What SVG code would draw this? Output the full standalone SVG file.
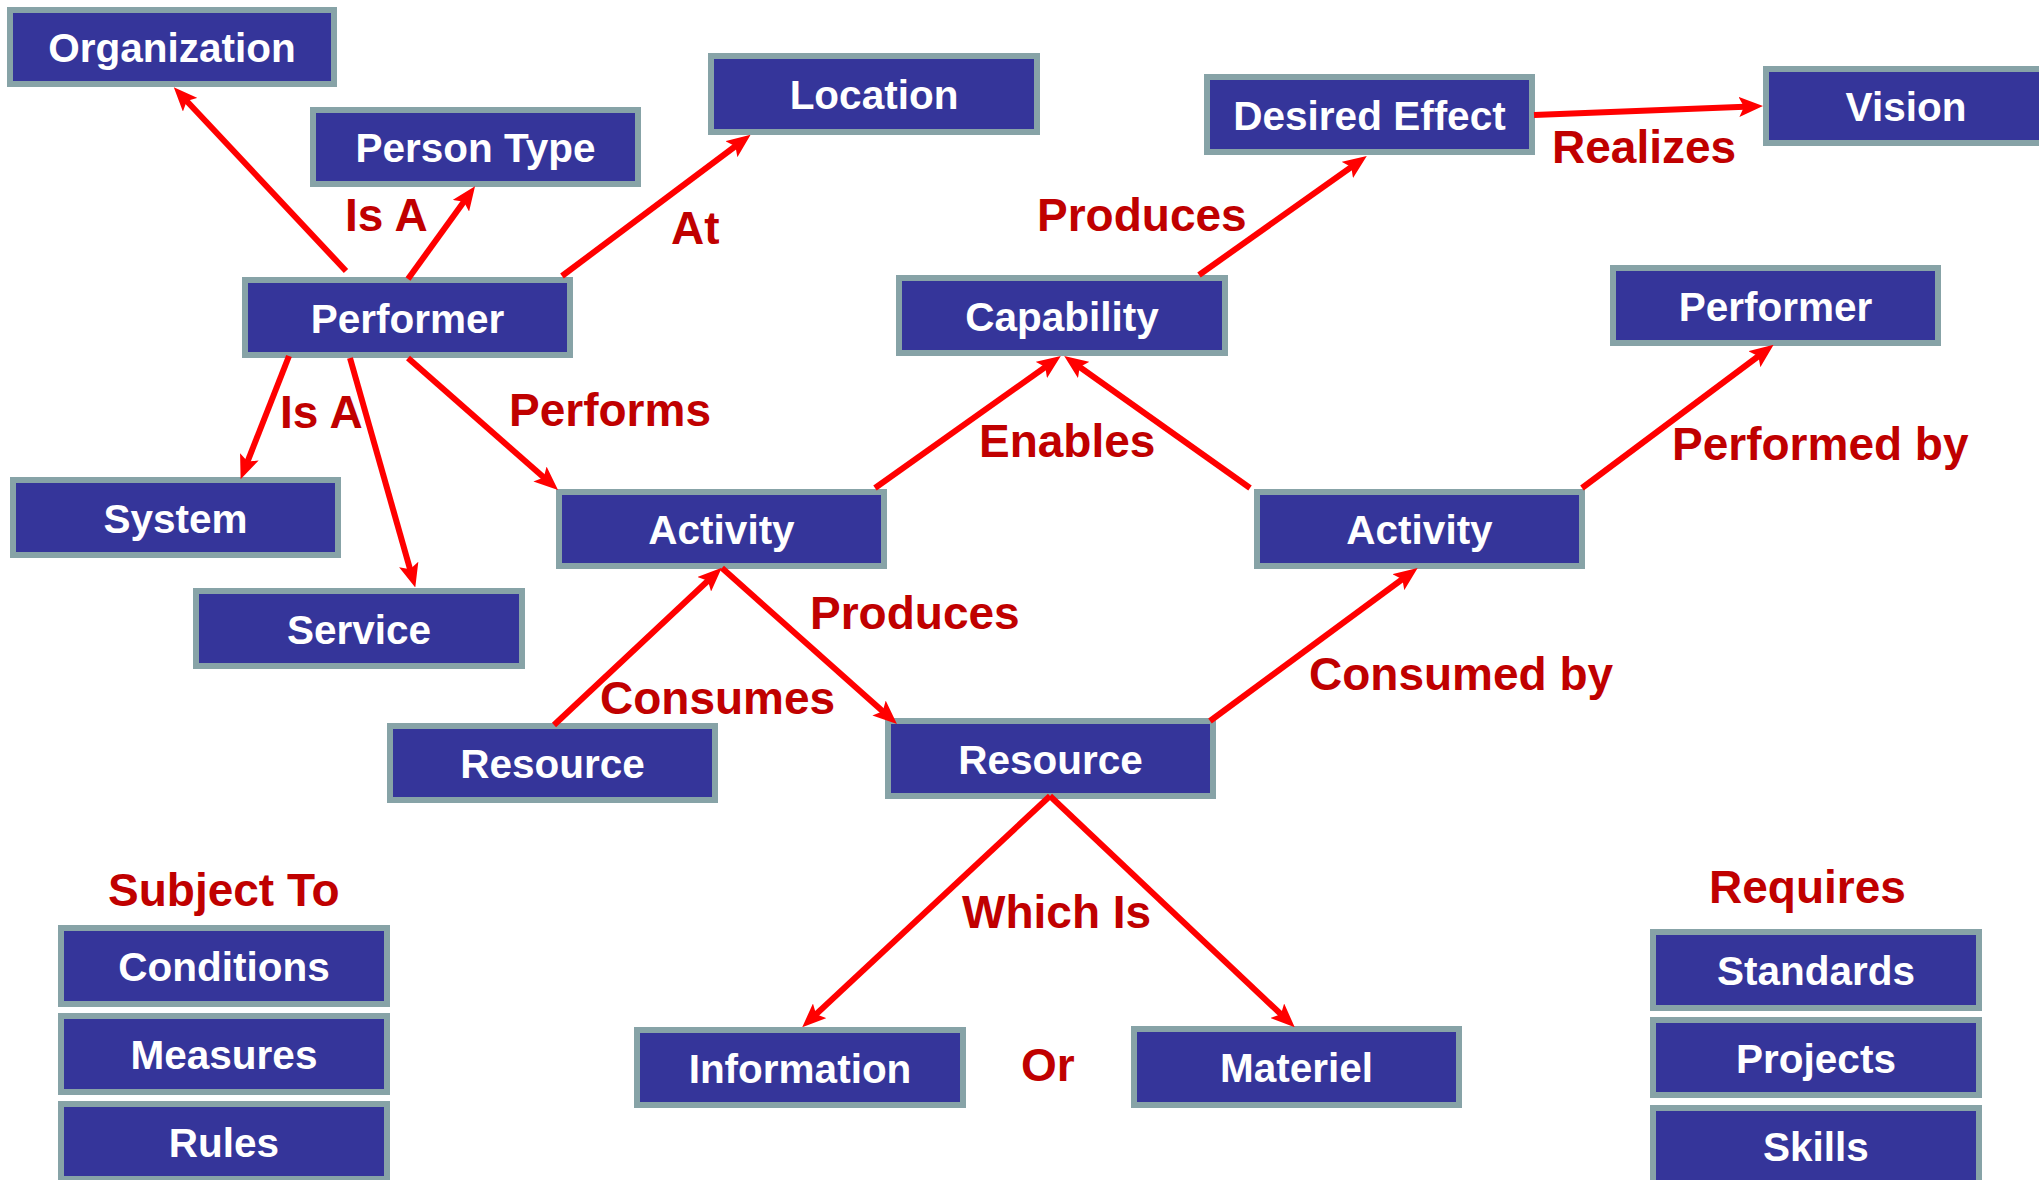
<svg xmlns="http://www.w3.org/2000/svg" width="2039" height="1180" viewBox="0 0 2039 1180">
<style>
.box rect{fill:#35359A;stroke:#87A3A7;stroke-width:6}
.box text{fill:#FFFFFF;font-family:"Liberation Sans",Arial,sans-serif;font-weight:bold;font-size:40.5px;text-anchor:middle}
.lbl{fill:#C00000;font-family:"Liberation Sans",Arial,sans-serif;font-weight:bold;font-size:46px}
.conn line{stroke:#FF0000;stroke-width:6;fill:none;marker-end:url(#ah)}
</style>
<defs>
<marker id="ah" markerUnits="userSpaceOnUse" viewBox="0 0 24 20" refX="12" refY="10" markerWidth="24" markerHeight="20" orient="auto">
<path d="M0,0 L24,10 L0,20 L5,10 z" fill="#FF0000"/>
</marker>
</defs>
<rect x="0" y="0" width="2039" height="1180" fill="#FFFFFF"/>
<g id="nodes">
<g id="organization" class="box"><rect x="10" y="10" width="324" height="74"/><text x="172" y="62">Organization</text></g>
<g id="person-type" class="box"><rect x="313" y="110" width="325" height="74"/><text x="475.5" y="162">Person Type</text></g>
<g id="location" class="box"><rect x="711" y="56" width="326" height="76"/><text x="874" y="109">Location</text></g>
<g id="desired-effect" class="box"><rect x="1207" y="77" width="325" height="75"/><text x="1369.5" y="129.5">Desired Effect</text></g>
<g id="vision" class="box"><rect x="1766" y="69" width="325" height="74"/><text x="1906" y="121">Vision</text></g>
<g id="performer-left" class="box"><rect x="245" y="280" width="325" height="75"/><text x="407.5" y="332.5">Performer</text></g>
<g id="capability" class="box"><rect x="899" y="278" width="326" height="75"/><text x="1062" y="330.5">Capability</text></g>
<g id="performer-right" class="box"><rect x="1613" y="268" width="325" height="75"/><text x="1775.5" y="320.5">Performer</text></g>
<g id="system" class="box"><rect x="13" y="480" width="325" height="75"/><text x="175.5" y="532.5">System</text></g>
<g id="service" class="box"><rect x="196" y="591" width="326" height="75"/><text x="359" y="643.5">Service</text></g>
<g id="activity-left" class="box"><rect x="559" y="492" width="325" height="74"/><text x="721.5" y="544">Activity</text></g>
<g id="activity-right" class="box"><rect x="1257" y="492" width="325" height="74"/><text x="1419.5" y="544">Activity</text></g>
<g id="resource-left" class="box"><rect x="390" y="726" width="325" height="74"/><text x="552.5" y="778">Resource</text></g>
<g id="resource-center" class="box"><rect x="888" y="721" width="325" height="75"/><text x="1050.5" y="773.5">Resource</text></g>
<g id="information" class="box"><rect x="637" y="1030" width="326" height="75"/><text x="800" y="1082.5">Information</text></g>
<g id="materiel" class="box"><rect x="1134" y="1029" width="325" height="76"/><text x="1296.5" y="1082">Materiel</text></g>
<g id="conditions" class="box"><rect x="61" y="928" width="326" height="76"/><text x="224" y="981">Conditions</text></g>
<g id="measures" class="box"><rect x="61" y="1016" width="326" height="76"/><text x="224" y="1069">Measures</text></g>
<g id="rules" class="box"><rect x="61" y="1104" width="326" height="75"/><text x="224" y="1156.5">Rules</text></g>
<g id="standards" class="box"><rect x="1653" y="932" width="326" height="76"/><text x="1816" y="985">Standards</text></g>
<g id="projects" class="box"><rect x="1653" y="1020" width="326" height="75"/><text x="1816" y="1072.5">Projects</text></g>
<g id="skills" class="box"><rect x="1653" y="1108" width="326" height="75"/><text x="1816" y="1160.5">Skills</text></g>
</g>
<g id="connectors" class="conn">
<line x1="346" y1="271" x2="182" y2="96"/>
<line x1="408" y1="279" x2="468" y2="196"/>
<line x1="562" y1="276" x2="741" y2="142"/>
<line x1="289" y1="356" x2="245" y2="468"/>
<line x1="350" y1="358" x2="412" y2="576"/>
<line x1="408" y1="358" x2="549" y2="482"/>
<line x1="875" y1="488" x2="1051" y2="363"/>
<line x1="1250" y1="488" x2="1074" y2="363"/>
<line x1="1199" y1="275" x2="1357" y2="163"/>
<line x1="1534" y1="115" x2="1751" y2="106.5"/>
<line x1="1582" y1="488" x2="1764" y2="352"/>
<line x1="554" y1="725" x2="713" y2="576"/>
<line x1="722" y1="568" x2="888" y2="716"/>
<line x1="1210" y1="721" x2="1408" y2="575"/>
<line x1="1050" y1="796" x2="811" y2="1019"/>
<line x1="1050" y1="796" x2="1286" y2="1019"/>
</g>
<g id="labels">
<text class="lbl" x="345" y="231">Is A</text>
<text class="lbl" x="671" y="244">At</text>
<text class="lbl" x="1037" y="231">Produces</text>
<text class="lbl" x="1552" y="163">Realizes</text>
<text class="lbl" x="280" y="428">Is A</text>
<text class="lbl" x="509" y="426">Performs</text>
<text class="lbl" x="979" y="457">Enables</text>
<text class="lbl" x="1672" y="460">Performed by</text>
<text class="lbl" x="810" y="629">Produces</text>
<text class="lbl" x="600" y="714">Consumes</text>
<text class="lbl" x="1309" y="690">Consumed by</text>
<text class="lbl" x="962" y="928">Which Is</text>
<text class="lbl" x="1021" y="1081">Or</text>
<text class="lbl" x="108" y="906">Subject To</text>
<text class="lbl" x="1709" y="903">Requires</text>
</g>
</svg>
